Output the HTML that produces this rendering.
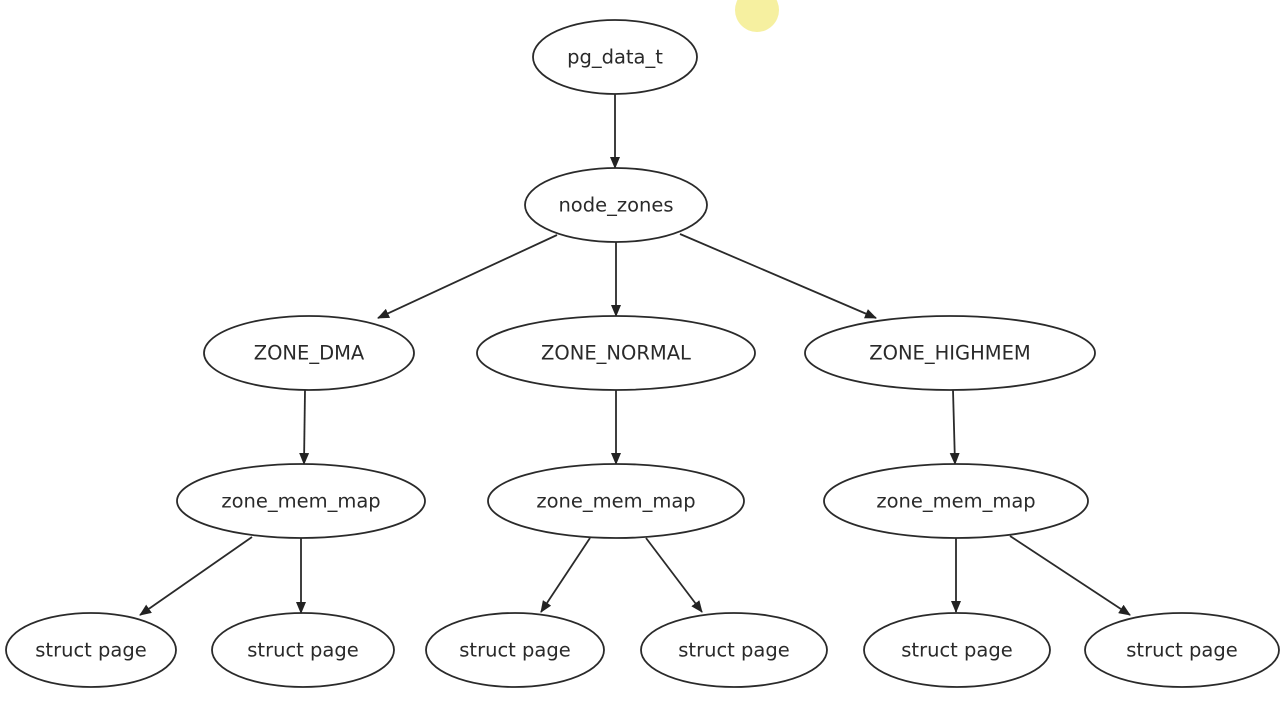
<!DOCTYPE html>
<html><head><meta charset="utf-8"><style>
html,body{margin:0;padding:0;background:#fff;}
svg{display:block}
text{font-family:"DejaVu Sans","Liberation Sans",sans-serif;font-size:19.5px;fill:#2a2a2a;text-anchor:middle;dominant-baseline:central}
ellipse{fill:#fff;stroke:#2a2a2a;stroke-width:1.8}
line{stroke:#2a2a2a;stroke-width:1.8}
</style></head><body>
<svg width="1288" height="706" viewBox="0 0 1288 706">
<defs><marker id="a" markerWidth="12" markerHeight="10" refX="11" refY="5" orient="auto" markerUnits="userSpaceOnUse"><path d="M0,0 L12,5 L0,10 z" fill="#222"/></marker></defs>
<circle cx="757" cy="10" r="22" fill="#f6f0a0"/>
<g marker-end="url(#a)">
<line x1="615" y1="94" x2="615" y2="168"/>
<line x1="557" y1="235" x2="378" y2="318"/>
<line x1="616" y1="242" x2="616" y2="316"/>
<line x1="680" y1="234" x2="876" y2="318"/>
<line x1="305" y1="390" x2="304" y2="464"/>
<line x1="616" y1="390" x2="616" y2="464"/>
<line x1="953" y1="390" x2="955" y2="464"/>
<line x1="252" y1="537" x2="140" y2="615"/>
<line x1="301" y1="538" x2="301" y2="613"/>
<line x1="590" y1="538" x2="541" y2="612"/>
<line x1="646" y1="538" x2="702" y2="612"/>
<line x1="956" y1="538" x2="956" y2="612"/>
<line x1="1010" y1="536" x2="1130" y2="615"/>
</g>
<ellipse cx="615" cy="57" rx="82" ry="37"/><text x="615" y="57">pg_data_t</text>
<ellipse cx="616" cy="205" rx="91" ry="37"/><text x="616" y="205">node_zones</text>
<ellipse cx="309" cy="353" rx="105" ry="37"/><text x="309" y="353">ZONE_DMA</text>
<ellipse cx="616" cy="353" rx="139" ry="37"/><text x="616" y="353">ZONE_NORMAL</text>
<ellipse cx="950" cy="353" rx="145" ry="37"/><text x="950" y="353">ZONE_HIGHMEM</text>
<ellipse cx="301" cy="501" rx="124" ry="37"/><text x="301" y="501">zone_mem_map</text>
<ellipse cx="616" cy="501" rx="128" ry="37"/><text x="616" y="501">zone_mem_map</text>
<ellipse cx="956" cy="501" rx="132" ry="37"/><text x="956" y="501">zone_mem_map</text>
<ellipse cx="91" cy="650" rx="85" ry="37"/><text x="91" y="650">struct page</text>
<ellipse cx="303" cy="650" rx="91" ry="37"/><text x="303" y="650">struct page</text>
<ellipse cx="515" cy="650" rx="89" ry="37"/><text x="515" y="650">struct page</text>
<ellipse cx="734" cy="650" rx="93" ry="37"/><text x="734" y="650">struct page</text>
<ellipse cx="957" cy="650" rx="93" ry="37"/><text x="957" y="650">struct page</text>
<ellipse cx="1182" cy="650" rx="97" ry="37"/><text x="1182" y="650">struct page</text>
</svg>
</body></html>
